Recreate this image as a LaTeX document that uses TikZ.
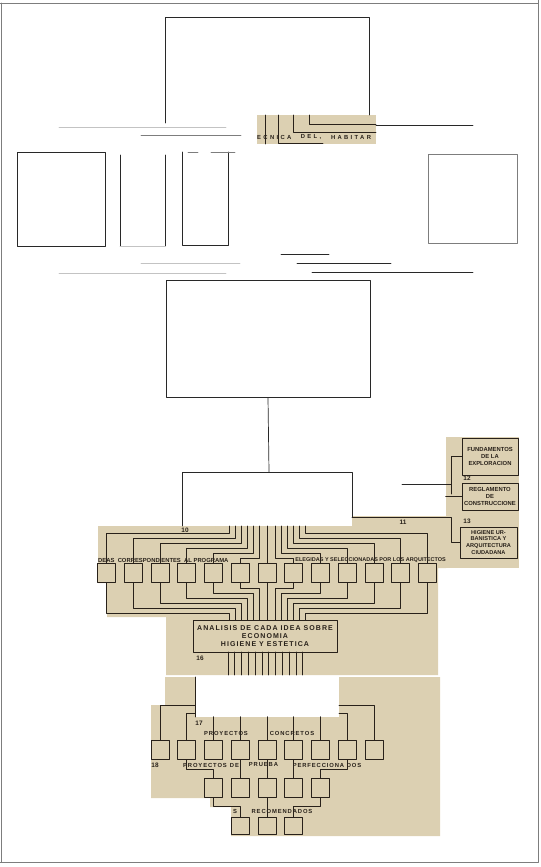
\documentclass[tikz,border=0pt]{standalone}
\usepackage{fontspec}
\setsansfont{Liberation Sans}
\newfontfamily\wideletters[LetterSpace=40]{Liberation Sans}
\newfontfamily\spaced[LetterSpace=15]{Liberation Sans}
\usetikzlibrary{positioning}
\definecolor{paper}{RGB}{220,208,178}
\definecolor{ink}{RGB}{40,33,26}
\definecolor{pen}{RGB}{40,40,40}
\definecolor{grayline}{RGB}{125,125,125}
\definecolor{paleline}{RGB}{195,195,195}
\tikzset{
  hand/.style={font=\sffamily\bfseries\fontsize{5}{6.2}\selectfont, text=ink, inner sep=0pt, align=center},
  handwide/.style={font=\spaced\bfseries\fontsize{5}{6}\selectfont, text=ink, inner sep=0pt},
  num/.style={font=\sffamily\bfseries\fontsize{5.5}{6}\selectfont, text=ink, inner sep=0pt},
  sbox/.style={draw=ink, line width=.6pt, minimum width=.54cm, minimum height=.57cm, inner sep=0pt},
  wire/.style={ink, line width=.55pt},
  outline/.style={pen, line width=.6pt},
}
\begin{document}
\begin{tikzpicture}[x=.03cm,y=-.03cm,line join=round,line cap=round]
	\useasboundingbox (0,0) rectangle (541,867);
	\def\dx{26.75}
	% frame
	\draw[grayline,line width=.8pt] (0,3)--(538,3) (538,0)--(538,862)--(0,862) (1,3)--(1,862);
	% scanned pieces
	\fill[paper] (257,115) rectangle (376,144);
	\fill[paper] (446,437) rectangle (519,568);
	\fill[paper] (352,516) -- (446,516) -- (446,568) -- (438,568) -- (438,675) -- (166,675)
		-- (166,617) -- (107,617) -- (107,583) -- (98,583) -- (98,526) -- (352,526) -- cycle;
	\fill[paper] (165,677) -- (440,677) -- (440,836) -- (231,836) -- (231,807) -- (210,807)
		-- (210,798) -- (151,798) -- (151,705) -- (165,705) -- cycle;
	\fill[white] (195,677) rectangle (339,717);
	
	% top part
	\draw[outline] (165,123) -- (165,17) -- (369,17) -- (369,115);
	\draw[paleline,line width=.7pt] (59,127) -- (226,127);
	\draw[grayline,line width=.6pt] (141,135) -- (241,135);
	\draw[outline] (376,125) -- (473,125);
	\draw[wire] (265,115) -- (265,144) (278,115) -- (278,143) -- (323,143)
		(293,115) |- (376,132) (309,115) |- (376,124);
	\node[font=\wideletters\bfseries\fontsize{5}{6}\selectfont, text=ink, inner sep=0pt, anchor=west] (ecnica) at (257,137) {ECNICA};
	\node[font=\wideletters\bfseries\fontsize{5}{6}\selectfont, text=ink, inner sep=0pt] (del) at (311,137) {DEL,};
	\node[font=\wideletters\bfseries\fontsize{5}{6}\selectfont, text=ink, inner sep=0pt] (habitar) at (351,137) {HABITAR};
	
	\node[outline, draw, minimum width=2.64cm, minimum height=2.82cm] (t1) at (61,199) {};
	\draw[outline] (120,155) -- (120,246) (165,155) -- (165,246);
	\draw[paleline,line width=.7pt] (120,246) -- (165,246);
	\draw[outline] (182,152) -- (182,245) -- (228,245) -- (228,152);
	\draw[grayline,line width=.6pt] (188,152) -- (198,152) (211,152) -- (235,152);
	\draw[grayline,line width=.6pt] (428,154) rectangle (517,243);
	
	\draw[outline] (281,254) -- (329,254) (297,263) -- (391,263) (312,272) -- (473,272);
	\draw[paleline,line width=.7pt] (141,263) -- (240,263) (59,273) -- (226,273);
	
	% middle boxes
	\node[outline, draw, minimum width=6.12cm, minimum height=3.51cm] (bmid) at (268,338.5) {};
	\coordinate (b10) at (269,472);
	\draw[outline] (bmid.south) -- (b10);
	\draw[outline] (182,526) -- (182,472) -- (352,472) -- (352,517);
	
	% right column
	\node[hand, draw=ink, line width=.6pt, minimum width=1.68cm, minimum height=1.11cm] (fa) at (490,456.5) {FUNDAMENTOS\\DE LA\\EXPLORACION};
	\node[hand, draw=ink, line width=.6pt, minimum width=1.68cm, minimum height=.81cm] (fb) at (490,496.5) {REGLAMENTO\\DE\\CONSTRUCCIONE};
	\node[hand, draw=ink, line width=.6pt, minimum width=1.71cm, minimum height=.93cm, font=\sffamily\bfseries\fontsize{4.8}{5.9}\selectfont] (fc) at (488.5,542.5) {HIGIENE UR-\\BANISTICA Y\\ARQUITECTURA\\CIUDADANA};
	\draw[outline] (402,484) -- (446,484);
	\draw[wire] (446,484) -- (451,484) (451,494) |- (fa.west);
	\draw[wire] (fb.west) -- ++(-16,0);
	\draw[wire] (352,517) -- (451,517) |- (fc.west);
	\node[num] (n12) at (467,478) {12};
	\node[num] (n13) at (467,521) {13};
	\node[num] (n10) at (185,530) {10};
	\node[num] (n11) at (403,522) {11};
	
	% first row of ideas
	\foreach \i in {1,...,13}{
		\pgfmathsetmacro{\cx}{267+\dx*(\i-7)}
		\node[sbox] (r1-\i) at (\cx,572.5) {};
	}
	\foreach \i in {1,...,6}{
		\pgfmathtruncatemacro{\d}{7-\i}
		\pgfmathtruncatemacro{\j}{7+\d}
		\pgfmathsetmacro{\yt}{558-5*(\d-1)}
		\pgfmathsetmacro{\yb}{588+5*(\d-1)}
		\pgfmathsetmacro{\off}{8+6*(\d-1)}
		\draw[wire] (r1-\i.north) |- (267-\off,\yt) -- (267-\off,526);
		\draw[wire] (r1-\i.south) |- (267-\off,\yb) -- (267-\off,620);
		\draw[wire] (r1-\j.north) |- (267+\off,\yt) -- (267+\off,526);
		\draw[wire] (r1-\j.south) |- (267+\off,\yb) -- (267+\off,620);
	}
	\draw[wire] (r1-7.north) -- (267,526) (r1-7.south) -- (267,620);
	\node[hand, anchor=west] (ideas) at (98,560) {DEAS \ CORRESPONDIENTES \ AL PROGRAMA};
	\node[hand, anchor=east, font=\sffamily\bfseries\fontsize{4.7}{6}\selectfont] (elegidas) at (446,560) {ELEGIDAS Y SELECCIONADAS POR LOS ARQUITECTOS};
	
	% analysis box
	\node[hand, draw=ink, line width=.6pt, minimum width=4.32cm, minimum height=.96cm,
		font=\spaced\bfseries\fontsize{6}{7}\selectfont] (b16) at (265,636) {ANALISIS DE CADA IDEA SOBRE\\ECONOMIA\\HIGIENE Y ESTETICA};
	\foreach \k in {0,...,11}
		\draw[wire] (228+6.8*\k,652) -- (228+6.8*\k,675);
	\node[num] (n16) at (200,658) {16};
	\draw[wire] (195,677) -- (195,717);
	
	% second row
	\foreach \j in {1,...,9}{
		\pgfmathsetmacro{\cx}{267+\dx*(\j-5)}
		\node[sbox] (r2-\j) at (\cx,749.5) {};
	}
	\draw[wire] (r2-1.north) |- (195,705);
	\draw[wire] (r2-2.north) |- (195,713);
	\foreach \j in {3,...,7}
		\draw[wire] (r2-\j.north) -- ++(0,-23);
	\draw[wire] (r2-8.north) |- (339,713);
	\draw[wire] (r2-9.north) |- (339,705);
	\node[num] (n17) at (199,723) {17};
	\node[handwide] (proy1) at (226,733) {PROYECTOS};
	\node[handwide] (conc) at (292,733) {CONCRETOS};
	
	% third row
	\foreach \k in {1,...,5}{
		\pgfmathsetmacro{\cx}{267+\dx*(\k-3)}
		\node[sbox] (r3-\k) at (\cx,788) {};
	}
	\draw[wire] (r2-2.south) -- ++(0,10) -| (r3-1.north);
	\draw[wire] (r2-4.south) -- (r3-2.north) (r2-5.south) -- (r3-3.north) (r2-6.south) -- (r3-4.north);
	\draw[wire] (r2-8.south) -- ++(0,10) -| (r3-5.north);
	\node[num] (n18) at (155,765) {18};
	\node[handwide] (proy2) at (205,765) {PROYECTOS};
	\node[handwide] (de) at (234.5,765) {DE};
	\node[handwide] (prueba) at (263.5,765) {PRUEBA};
	\node[handwide] (perf) at (318.5,765) {PERFECCIONA};
	\node[handwide] (dos) at (354,765) {DOS};
	
	% fourth row
	\foreach \l in {1,...,3}{
		\pgfmathsetmacro{\cx}{267+\dx*(\l-2)}
		\node[sbox, minimum height=.51cm] (r4-\l) at (\cx,825.5) {};
	}
	\draw[wire] (r3-1.south) -- ++(0,8) -| (r4-1.north);
	\draw[wire] (r3-3.south) -- (r4-2.north);
	\draw[wire] (r3-5.south) -- ++(0,8) -| (r4-3.north);
	\node[handwide] (s) at (235,811) {S};
	\node[handwide] (recom) at (282,811) {RECOMENDADOS};
\end{tikzpicture}
\end{document}
